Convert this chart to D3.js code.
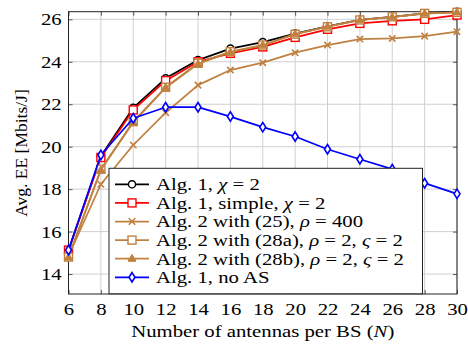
<!DOCTYPE html>
<html>
<head>
<meta charset="utf-8">
<script src="https://cdn.jsdelivr.net/npm/d3@7"></script>
<style>
  body { margin: 0; background: #fff; }
  svg { font-family: "Liberation Serif", "DejaVu Serif", serif; }
</style>
</head>
<body>
<svg id="chart" width="468" height="345"></svg>
<script>
// antennas per BS
const antennas = [6, 8, 10, 12, 14, 16, 18, 20, 22, 24, 26, 28, 30];

const alg1 = [15.1, 19.55, 21.83, 23.22, 24.08, 24.62, 24.93, 25.33, 25.67, 25.98, 26.12, 26.28, 26.36];
const alg1Simple = [15.13, 19.49, 21.73, 23.11, 24.0, 24.4, 24.7, 25.15, 25.53, 25.81, 25.93, 26.0, 26.2];
const alg2Eq25 = [14.85, 18.23, 20.08, 21.6, 22.9, 23.61, 23.96, 24.43, 24.79, 25.07, 25.1, 25.21, 25.42];
const alg2Eq28a = [14.8, 18.94, 21.18, 22.8, 23.93, 24.48, 24.79, 25.3, 25.65, 25.97, 26.12, 26.28, 26.33];
const alg2Eq28b = [14.78, 18.9, 21.15, 22.78, 23.9, 24.46, 24.78, 25.3, 25.66, 25.96, 26.1, 26.27, 26.33];
const alg1NoAS = [15.13, 19.61, 21.34, 21.86, 21.86, 21.42, 20.92, 20.48, 19.88, 19.41, 18.94, 18.28, 17.78];

const xTicks = [6, 8, 10, 12, 14, 16, 18, 20, 22, 24, 26, 28, 30];
const yTicks = [14, 16, 18, 20, 22, 24, 26];

const brown = "#bf8040";
const series = [
  {values: alg1, color: "black", mark: "circle", label: [["Alg. 1, ", 0], ["χ", 1], [" = 2", 0]]},
  {values: alg1Simple, color: "red", mark: "square", label: [["Alg. 1, simple, ", 0], ["χ", 1], [" = 2", 0]]},
  {values: alg2Eq25, color: brown, mark: "cross", label: [["Alg. 2 with (25), ", 0], ["ρ", 1], [" = 400", 0]]},
  {values: alg2Eq28a, color: brown, mark: "square", label: [["Alg. 2 with (28a), ", 0], ["ρ", 1], [" = 2, ", 0], ["ς", 1], [" = 2", 0]]},
  {values: alg2Eq28b, color: brown, mark: "triangle", label: [["Alg. 2 with (28b), ", 0], ["ρ", 1], [" = 2, ", 0], ["ς", 1], [" = 2", 0]]},
  {values: alg1NoAS, color: "blue", mark: "diamond", label: [["Alg. 1, no AS", 0]]}
];

// text in the picture is a bit wider than it is tall
const sx = 1.22;
const fs = 17;

const margin = {top: 11.7, right: 11, bottom: 51, left: 68.5};
const width = 468 - margin.left - margin.right;
const height = 345 - margin.top - margin.bottom;

const svg = d3.select("#chart");
const g = svg.append("g")
    .attr("transform", "translate(" + margin.left + "," + margin.top + ")");

const x = d3.scaleLinear().domain([6, 30]).range([0, width]);
const y = d3.scaleLinear().domain([13.06, 26.36]).range([height, 0]);

// grid
g.append("g").selectAll("line").data(xTicks).enter().append("line")
    .attr("x1", d => x(d)).attr("x2", d => x(d))
    .attr("y1", 0).attr("y2", height)
    .attr("stroke", "#cbcbcb").attr("stroke-width", 0.9);
g.append("g").selectAll("line").data(yTicks).enter().append("line")
    .attr("y1", d => y(d)).attr("y2", d => y(d))
    .attr("x1", 0).attr("x2", width)
    .attr("stroke", "#cbcbcb").attr("stroke-width", 0.9);

// axes (ticks inside, pgfplots-like)
const xAxis = g.append("g").attr("transform", "translate(0," + height + ")")
    .call(d3.axisBottom(x).tickValues(xTicks).tickSizeInner(-4).tickSizeOuter(0).tickPadding(9));
const xTop = g.append("g")
    .call(d3.axisTop(x).tickValues(xTicks).tickSizeInner(-4).tickSizeOuter(0).tickFormat(""));
const yAxis = g.append("g")
    .call(d3.axisLeft(y).tickValues(yTicks).tickSizeInner(-4).tickSizeOuter(0).tickPadding(7));
const yRight = g.append("g").attr("transform", "translate(" + width + ",0)")
    .call(d3.axisRight(y).tickValues(yTicks).tickSizeInner(-4).tickSizeOuter(0).tickFormat(""));

[xAxis, xTop, yAxis, yRight].forEach(a => {
  a.select(".domain").remove();
  a.selectAll("line").attr("stroke", "#333").attr("stroke-width", 0.8);
  a.selectAll("text").attr("font-family", "Liberation Serif").attr("font-size", fs).attr("fill", "#000");
});
xAxis.selectAll("text").attr("transform", "scale(" + sx + ",1)");
yAxis.selectAll("text").attr("x", 0).attr("transform", "translate(-6.8,0) scale(" + sx + ",1)");

g.append("rect")
    .attr("width", width).attr("height", height)
    .attr("fill", "none").attr("stroke", "#222").attr("stroke-width", 1);

// marks
function drawMark(sel, type, color) {
  if (type === "circle") {
    sel.append("circle").attr("r", 3.6)
        .attr("fill", "white").attr("stroke", color).attr("stroke-width", 1.4);
  } else if (type === "square") {
    sel.append("rect").attr("x", -4).attr("y", -4).attr("width", 8).attr("height", 8)
        .attr("fill", "white").attr("stroke", color).attr("stroke-width", 1.4);
  } else if (type === "cross") {
    sel.append("path").attr("d", "M-3.2,-3.2L3.2,3.2M-3.2,3.2L3.2,-3.2")
        .attr("stroke", color).attr("stroke-width", 1.6);
  } else if (type === "triangle") {
    sel.append("path").attr("d", "M0,-4.4L4,2.6L-4,2.6Z")
        .attr("fill", color).attr("stroke", color).attr("stroke-width", 1);
  } else if (type === "diamond") {
    sel.append("path").attr("d", "M0,-4.7L3,0L0,4.7L-3,0Z")
        .attr("fill", "white").attr("stroke", color).attr("stroke-width", 1.6);
  }
}

const line = d3.line().x(d => x(d[0])).y(d => y(d[1]));

series.forEach(s => {
  const pts = antennas.map((n, i) => [n, s.values[i]]);
  g.append("path").datum(pts)
      .attr("d", line)
      .attr("fill", "none")
      .attr("stroke", s.color)
      .attr("stroke-width", 1.75)
      .attr("stroke-linejoin", "round");
  g.append("g").selectAll("g").data(pts).enter().append("g")
      .attr("transform", d => "translate(" + x(d[0]) + "," + y(d[1]) + ")")
      .each(function() { drawMark(d3.select(this), s.mark, s.color); });
});

// legend
const legend = svg.append("g").attr("transform", "translate(109,168.3)");
legend.append("rect")
    .attr("width", 313.5).attr("height", 125.5)
    .attr("fill", "white").attr("stroke", "#222").attr("stroke-width", 1);

series.forEach((s, i) => {
  const row = legend.append("g").attr("transform", "translate(0," + (16 + i * 18.6) + ")");
  row.append("line").attr("x1", 6).attr("x2", 40)
      .attr("stroke", s.color).attr("stroke-width", 1.75);
  drawMark(row.append("g").attr("transform", "translate(23,0)"), s.mark, s.color);
  const t = row.append("text")
      .attr("transform", "translate(47,5.8) scale(" + sx + ",1)")
      .attr("font-size", fs).attr("fill", "#000");
  s.label.forEach(p => {
    t.append("tspan").text(p[0]).attr("font-style", p[1] ? "italic" : "normal");
  });
});

// axis labels
const xl = svg.append("text")
    .attr("transform", "translate(" + (margin.left + width / 2) + ",337) scale(" + sx + ",1)")
    .attr("text-anchor", "middle").attr("font-size", fs).attr("fill", "#000");
xl.append("tspan").text("Number of antennas per BS (");
xl.append("tspan").attr("font-style", "italic").text("N");
xl.append("tspan").text(")");

svg.append("text")
    .attr("transform", "translate(27,153) rotate(-90)")
    .attr("text-anchor", "middle").attr("font-size", 17.5).attr("fill", "#000")
    .text("Avg. EE [Mbits/J]");
</script>
</body>
</html>
